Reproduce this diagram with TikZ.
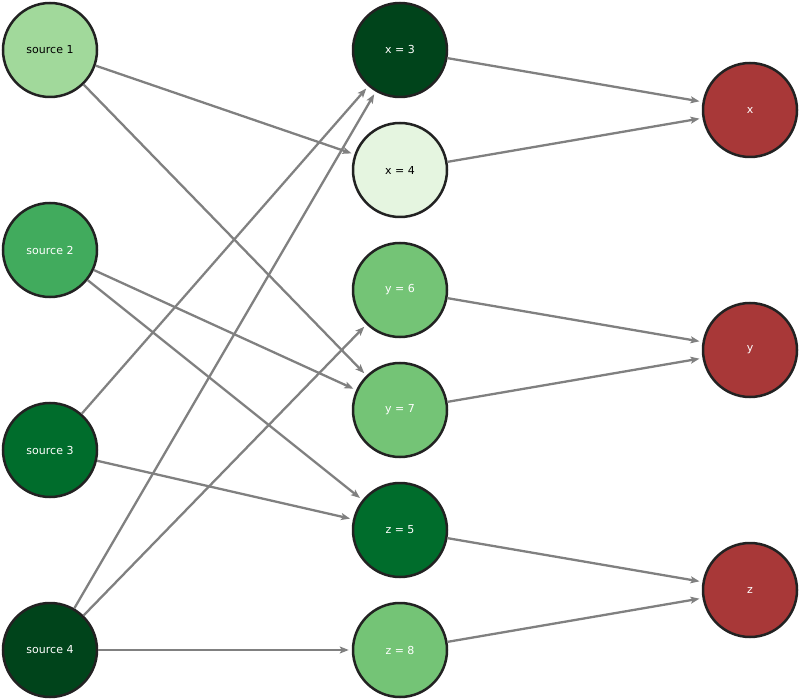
\documentclass[tikz,border=0pt]{standalone}
\usepackage{fontspec}
\setmainfont{DejaVu Sans}
\usetikzlibrary{arrows.meta}
\definecolor{g1}{HTML}{A1D99B}
\definecolor{g2}{HTML}{41AB5D}
\definecolor{g3}{HTML}{006D2C}
\definecolor{g4}{HTML}{00441B}
\definecolor{gl}{HTML}{E5F5E0}
\definecolor{gm}{HTML}{74C476}
\definecolor{rd}{HTML}{A83838}
\definecolor{bd}{HTML}{222222}
\definecolor{eg}{HTML}{808080}
\tikzset{
 nd/.style={circle,draw=bd,line width=2.5pt,minimum size=94pt,inner sep=0pt,font=\fontsize{11pt}{13pt}\selectfont,text=white},
 lt/.style={text=black},
 ed/.style={draw=eg,line width=2.3pt,-{Stealth[length=9pt,width=7pt,inset=2pt]},shorten >=3pt}
}
\begin{document}
\begin{tikzpicture}[x=1pt,y=-1pt]
\useasboundingbox (0,0) rectangle (800,700);
\node[nd,fill=g1,lt] (s1) at (50,50) {source 1};
\node[nd,fill=g2] (s2) at (50,250) {source 2};
\node[nd,fill=g3] (s3) at (50,450) {source 3};
\node[nd,fill=g4] (s4) at (50,650) {source 4};
\node[nd,fill=g4] (x3) at (400,50) {x = 3};
\node[nd,fill=gl,lt] (x4) at (400,170) {x = 4};
\node[nd,fill=gm] (y6) at (400,290) {y = 6};
\node[nd,fill=gm] (y7) at (400,410) {y = 7};
\node[nd,fill=g3] (z5) at (400,530) {z = 5};
\node[nd,fill=gm] (z8) at (400,650) {z = 8};
\node[nd,fill=rd] (x) at (750,110) {x};
\node[nd,fill=rd] (y) at (750,350) {y};
\node[nd,fill=rd] (z) at (750,590) {z};
\begin{scope}[on background layer/.style={}]
\draw[ed] (s1) -- (x4);
\draw[ed] (s1) -- (y7);
\draw[ed] (s2) -- (y7);
\draw[ed] (s2) -- (z5);
\draw[ed] (s3) -- (x3);
\draw[ed] (s3) -- (z5);
\draw[ed] (s4) -- (x3);
\draw[ed] (s4) -- (y6);
\draw[ed] (s4) -- (z8);
\draw[ed] (x3) -- (x);
\draw[ed] (x4) -- (x);
\draw[ed] (y6) -- (y);
\draw[ed] (y7) -- (y);
\draw[ed] (z5) -- (z);
\draw[ed] (z8) -- (z);
\end{scope}
\end{tikzpicture}
\end{document}
